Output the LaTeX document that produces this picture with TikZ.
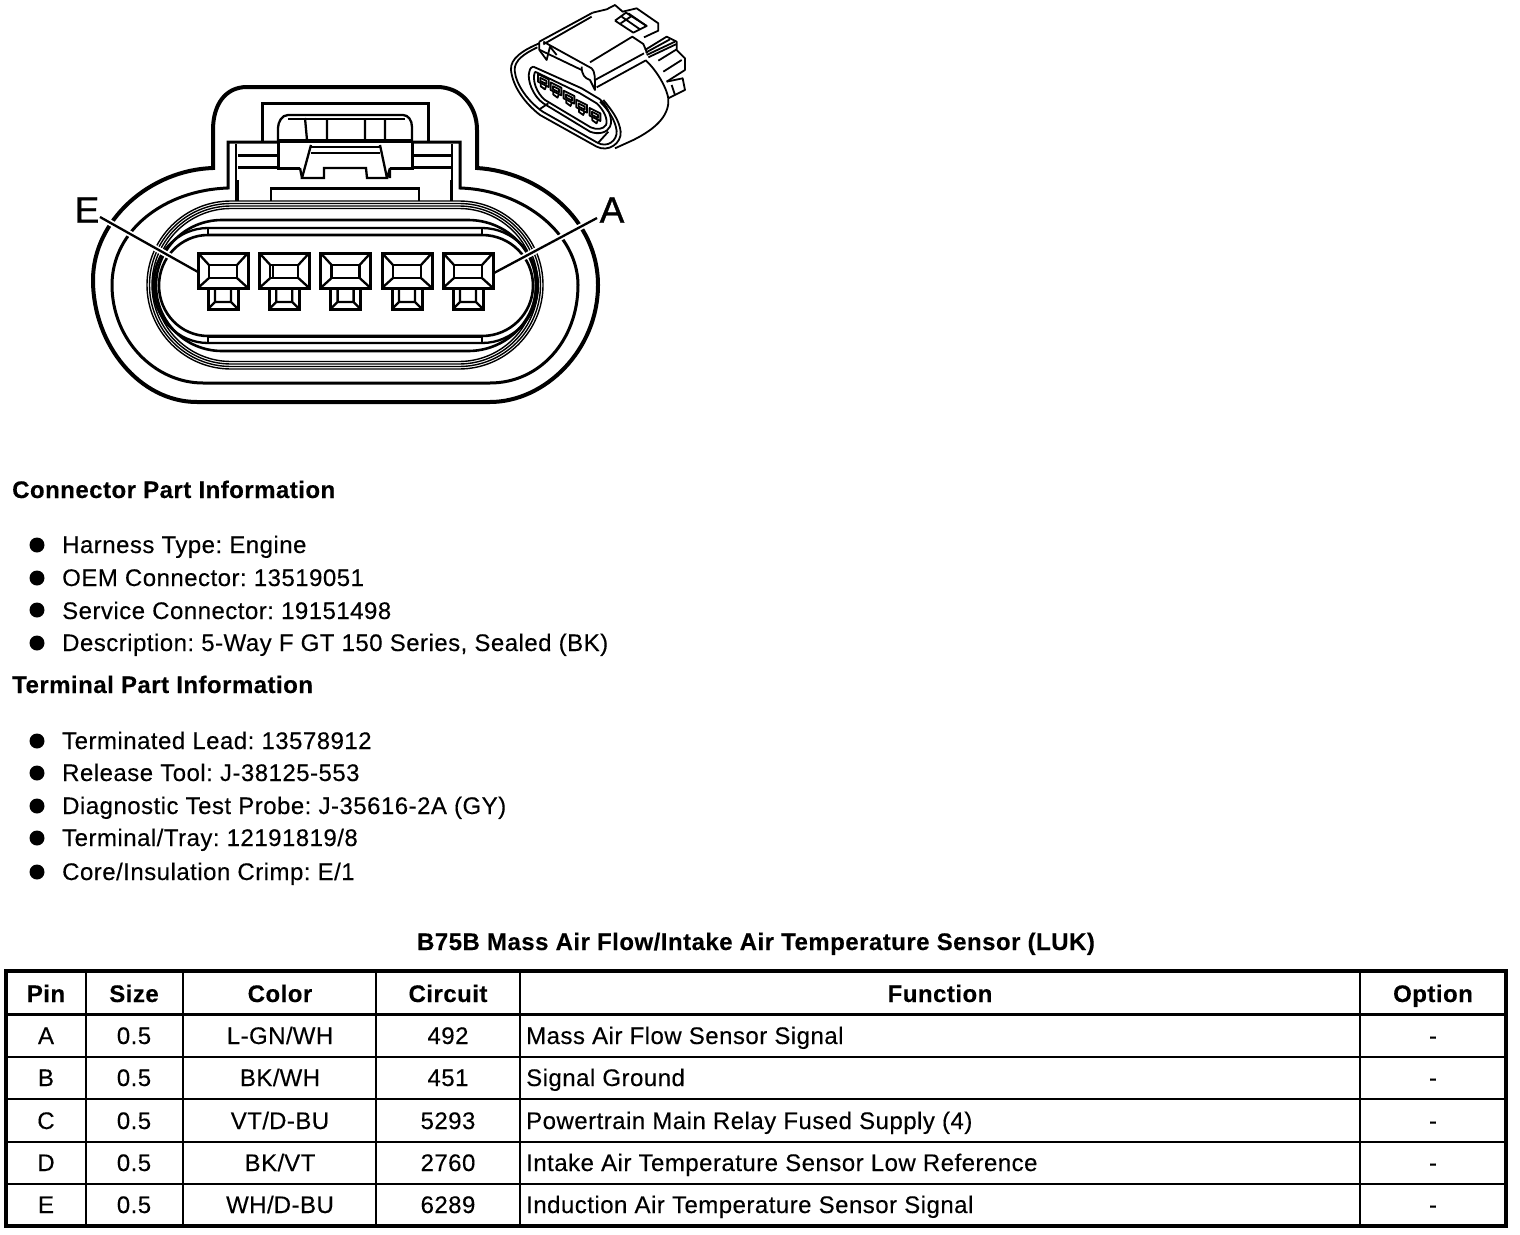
\documentclass[tikz,border=0pt]{standalone}
\usepackage{fontspec}
\setmainfont[LetterSpace=2,FakeBold=0.25]{Liberation Sans}
\frenchspacing
\newcommand{\txtsize}{\fontsize{24}{26}\selectfont}
\newcommand{\stadium}[6]{% x1 x2 ytop ybot rxL rxR
  \pgfmathsetmacro{\ymid}{(#3+#4)/2}\pgfmathsetmacro{\ryy}{(#4-#3)/2}
  \pgfmathsetmacro{\kL}{.5523*#5}\pgfmathsetmacro{\kR}{.5523*#6}\pgfmathsetmacro{\kY}{.5523*\ryy}
  \draw (#1,#3) -- (#2,#3) .. controls ({#2+\kR},#3) and ({#2+#6},{\ymid-\kY}) .. ({#2+#6},\ymid)
   .. controls ({#2+#6},{\ymid+\kY}) and ({#2+\kR},#4) .. (#2,#4) -- (#1,#4)
   .. controls ({#1-\kL},#4) and ({#1-#5},{\ymid+\kY}) .. ({#1-#5},\ymid)
   .. controls ({#1-#5},{\ymid-\kY}) and ({#1-\kL},#3) .. (#1,#3) -- cycle;}
\newcommand{\terminal}[1]{%
  \begin{scope}[shift={(#1,0)}]
    \draw[fat] (0,253) rectangle (50,288);
    \draw[mid] (11,265) rectangle (39,278);
    \draw[mid] (0,253) -- (11,265) (50,253) -- (39,265) (0,288) -- (11,278) (50,288) -- (39,278);
    \draw[fat] (10,288) -- (10,309) -- (40,309) -- (40,288);
    \draw[mid] (17,288) -- (17,302) -- (33,302) -- (33,288) (10,309) -- (17,302) (40,309) -- (33,302);
  \end{scope}}
\newcommand{\isopin}[2]{%
  \begin{scope}[shift={(#1,#2)},scale=1.15]
    \draw (-14,-20) -- (14,-6) -- (14,14) -- (-14,0) -- cycle;
    \draw (-8,-10) -- (8,-2) -- (8,6) -- (-8,-2) -- cycle;
    \draw (-7,2) -- (-7,12) -- (4,20) -- (8,10);
  \end{scope}}
\tikzset{
  thin line/.style={line width=1.4pt},
  mid/.style={line width=2.3pt},
  fat/.style={line width=3pt},
  heavy/.style={line width=4pt},
  rule/.style={line width=2pt},
  bullet/.style={circle,fill=black,inner sep=0pt,minimum size=15pt},
  txt/.style={anchor=base west,inner sep=0pt,font=\txtsize},
  boldtxt/.style={anchor=base west,inner sep=0pt,font=\txtsize\bfseries},
  cell/.style={anchor=base,inner sep=0pt,font=\txtsize},
  head/.style={anchor=base,inner sep=0pt,font=\txtsize\bfseries},
  pin label/.style={inner sep=0pt,font=\fontsize{37}{37}\selectfont\addfontfeature{FakeBold=1}}
}
\begin{document}
\begin{tikzpicture}[x=1pt,y=-1pt,line join=miter]
\useasboundingbox (0,0) rectangle (1520,1234);
% outer contours
\draw[heavy] (247,87) -- (437,87) .. controls (460,87) and (477,105) .. (477,130) -- (477,168)
  .. controls (540,172) and (598,220) .. (598,285) .. controls (598,350) and (545,402) .. (490,402)
  -- (197,402) .. controls (140,402) and (93,345) .. (93,280) .. controls (93,220) and (150,170) .. (213,168)
  -- (213,130) .. controls (213,105) and (225,87) .. (247,87) -- cycle;
\draw[fat] (278,142) -- (228,142) -- (228,188) .. controls (165,190) and (112,230) .. (112,285)
  .. controls (112,340) and (155,383) .. (203,383) -- (490,383)
  .. controls (540,383) and (578,340) .. (578,285) .. controls (578,235) and (525,190) .. (460,188)
  -- (460,142) -- (412,142);
\draw[mid] (236,144) -- (236,201) (452,144) -- (452,201);
\draw[fat] (237,180) -- (237,201) (451,180) -- (451,201);
% latch housing
\draw[fat] (262,142) -- (262,103) -- (428,103) -- (428,142);
\draw[mid] (278,142) -- (278,128) .. controls (278,122) and (282,115) .. (288,115) -- (403,115)
  .. controls (408,115) and (412,120) .. (412,127) -- (412,142);
\draw[thin line] (288,119) -- (405,119);
\draw[mid] (305,118) -- (307,140) (327,118) -- (327,140) (365,118) -- (365,140) (385,118) -- (385,140);
\draw[heavy] (278,140.5) -- (412,140.5);
\draw[fat] (278,142) -- (278,168) -- (300,168);
\draw[fat] (412,142) -- (412,168) -- (390,168);
\draw[mid] (311,145) -- (302,178) -- (324,178) -- (324,168) -- (366,168) -- (367,178) -- (387,178) -- (380,145);
\draw[mid] (300,168) -- (302,178) (390,168) -- (387,178) (390,168) -- (390,178);
\draw[thin line] (311,147) -- (380,147) (311,153) -- (380,153);
\draw[fat] (238,155) -- (278,155) (238,167) -- (278,167) (412,155) -- (452,155) (412,167) -- (452,167);
\draw[mid] (271,201) -- (271,188.5) -- (419,188.5) -- (419,201);
% seal ovals
\begin{scope}[thin line]
  \stadium{231}{459}{201}{369}{84}{84}
  \stadium{231}{459}{203.5}{366.5}{81.5}{81.5}
  \stadium{231}{459}{206}{364}{79}{79}
  \stadium{231}{459}{208.5}{361.5}{76.5}{76.5}
\end{scope}
\begin{scope}[line width=2.6pt]
  \stadium{222}{468}{220}{351}{66}{68}
\end{scope}
\begin{scope}[mid]
  \stadium{208}{482}{228}{343}{55}{56}
  \draw (208,228) -- (208,235) (482,228) -- (482,235) (208,336) -- (208,343) (482,336) -- (482,343);
\end{scope}
\begin{scope}[line width=2.6pt]
  \stadium{208}{482}{235}{336}{49}{51}
\end{scope}
\draw[fat] (208,336) -- (482,336);
% terminals
\terminal{198}\terminal{259.3}\terminal{320.6}\terminal{382}\terminal{443}
\draw[mid] (273,265) -- (273,278);
% leaders and labels
\node[pin label] (labelE) at (87,210) {E};
\node[pin label] (labelA) at (612,210) {A};
\coordinate (endE) at (100,217);
\coordinate (tipE) at (198,272);
\coordinate (endA) at (597,218);
\coordinate (tipA) at (494,273);
\draw[white,line width=6pt,shorten <=4pt,shorten >=6pt] (endE) -- (tipE);
\draw[white,line width=6pt,shorten <=4pt,shorten >=6pt] (endA) -- (tipA);
\draw[mid] (endE) -- (tipE);
\draw[mid] (endA) -- (tipA);
% small perspective view
\begin{scope}[shift={(500,0)},x=.3333pt,y=-.3333pt,line width=1.8pt,line join=round]
  \draw (118,130) .. controls (70,150) and (30,175) .. (33,210) .. controls (38,260) and (75,310) .. (120,345)
     -- (290,440) .. controls (325,458) and (365,430) .. (362,395) .. controls (358,360) and (335,330) .. (310,300);
  \draw (112,142) .. controls (75,160) and (42,180) .. (44,212) .. controls (48,255) and (85,305) .. (128,335)
     -- (292,428) .. controls (322,445) and (352,422) .. (350,393) .. controls (346,360) and (325,330) .. (300,305);
  \draw (100,200) -- (245,265) -- (300,298) .. controls (325,320) and (340,360) .. (330,380) .. controls (322,398) and (295,405) .. (270,395)
     -- (130,310) .. controls (100,290) and (80,240) .. (88,215) .. controls (90,205) and (95,200) .. (100,200);
  \draw (105,215) -- (240,280) -- (290,310) .. controls (312,330) and (325,360) .. (318,375) .. controls (310,388) and (290,390) .. (272,382) -- (135,300) .. controls (110,280) and (95,240) .. (105,215);
  \draw (120,327) -- (145,310) (295,428) -- (325,395);
  \draw (118,125) -- (278,38) (130,133) -- (275,50);
  \draw (118,125) -- (118,150) -- (140,180) -- (150,140) -- (170,165);
  \draw (130,125) -- (275,205) (120,150) -- (245,210);
  \draw (275,205) .. controls (285,215) and (285,230) .. (285,270) -- (270,240) .. controls (255,235) and (245,225) .. (245,200);
  \draw (270,187) -- (397,110) -- (430,132) -- (442,160);
  \draw (285,240) -- (432,160) (290,262) -- (436,182);
  \draw (436,180) .. controls (475,215) and (510,280) .. (505,310) .. controls (500,360) and (450,395) .. (400,420) -- (345,445);
  \draw (278,38) -- (320,28) -- (345,15) -- (368,35) -- (410,25) -- (475,70) -- (475,92) -- (432,112);
  \draw (345,62) -- (378,38) -- (440,78) -- (400,98) -- (345,62);
  \draw (365,50) -- (420,88) (385,40) -- (440,78) (362,70) -- (395,48);
  \draw (435,150) -- (500,110) -- (530,125) -- (530,148) -- (475,182);
  \draw (437,158) -- (510,118) (440,165) -- (525,125) (445,172) -- (530,132);
  \draw (530,150) -- (555,175) -- (555,210) -- (500,245);
  \draw (490,215) -- (545,180);
  \draw (500,245) -- (548,235) -- (555,270) -- (505,295);
  \draw (515,255) -- (525,285);
  \isopin{130}{245}\isopin{168}{270}\isopin{207}{295}\isopin{245}{322}\isopin{285}{347}
\end{scope}
% information text
\node[boldtxt] (hConn) at (12,498) {Connector Part Information};
\node[bullet] (b1) at (37,545) {};
\node[bullet] (b2) at (37,578) {};
\node[bullet] (b3) at (37,610) {};
\node[bullet] (b4) at (37,643) {};
\node[txt] (t1) at (62,553) {Harness Type: Engine};
\node[txt] (t2) at (62,586) {OEM Connector: 13519051};
\node[txt] (t3) at (62,619) {Service Connector: 19151498};
\node[txt] (t4) at (62,651) {Description: 5-Way F GT 150 Series, Sealed (BK)};
\node[boldtxt] (hTerm) at (12,693) {Terminal Part Information};
\node[bullet] (b5) at (37,741) {};
\node[bullet] (b6) at (37,773) {};
\node[bullet] (b7) at (37,806) {};
\node[bullet] (b8) at (37,838) {};
\node[bullet] (b9) at (37,872) {};
\node[txt] (t5) at (62,749) {Terminated Lead: 13578912};
\node[txt] (t6) at (62,781) {Release Tool: J-38125-553};
\node[txt] (t7) at (62,814) {Diagnostic Test Probe: J-35616-2A (GY)};
\node[txt] (t8) at (62,846) {Terminal/Tray: 12191819/8};
\node[txt] (t9) at (62,880) {Core/Insulation Crimp: E/1};
\node[head] (title) at (756,950) {B75B Mass Air Flow/Intake Air Temperature Sensor (LUK)};
% table
\draw[rule] (86,971) -- (86,1226) (183,971) -- (183,1226) (376,971) -- (376,1226) (520,971) -- (520,1226) (1360,971) -- (1360,1226);
\draw[rule] (6,1057) -- (1506,1057) (6,1099) -- (1506,1099) (6,1141.5) -- (1506,1141.5) (6,1184) -- (1506,1184);
\draw[line width=3pt] (6,1014) -- (1506,1014);
\draw[heavy] (6,971) rectangle (1506,1226);
\foreach \nm/\xx/\tx in {a/46/Pin,b/134/Size,c/280/Color,d/448/Circuit,e/940/Function,f/1433/Option}
  \node[head] (h\nm) at (\xx,1002) {\tx};
\foreach \rr/\yy/\pinv/\sz/\col/\cir in {1/1044/A/0.5/L-GN\slash WH/492,2/1086/B/0.5/BK\slash WH/451,3/1129/C/0.5/VT\slash D-BU/5293,4/1171/D/0.5/BK\slash VT/2760,5/1213/E/0.5/WH\slash D-BU/6289}{
  \node[cell] (p\rr) at (46,\yy) {\pinv};
  \node[cell] (s\rr) at (134,\yy) {\sz};
  \node[cell] (c\rr) at (280,\yy) {\col};
  \node[cell] (k\rr) at (448,\yy) {\cir};
  \node[cell] (o\rr) at (1433,\yy) {-};
}
\node[txt] (f1) at (526,1044) {Mass Air Flow Sensor Signal};
\node[txt] (f2) at (526,1086) {Signal Ground};
\node[txt] (f3) at (526,1129) {Powertrain Main Relay Fused Supply (4)};
\node[txt] (f4) at (526,1171) {Intake Air Temperature Sensor Low Reference};
\node[txt] (f5) at (526,1213) {Induction Air Temperature Sensor Signal};
\end{tikzpicture}
\end{document}
